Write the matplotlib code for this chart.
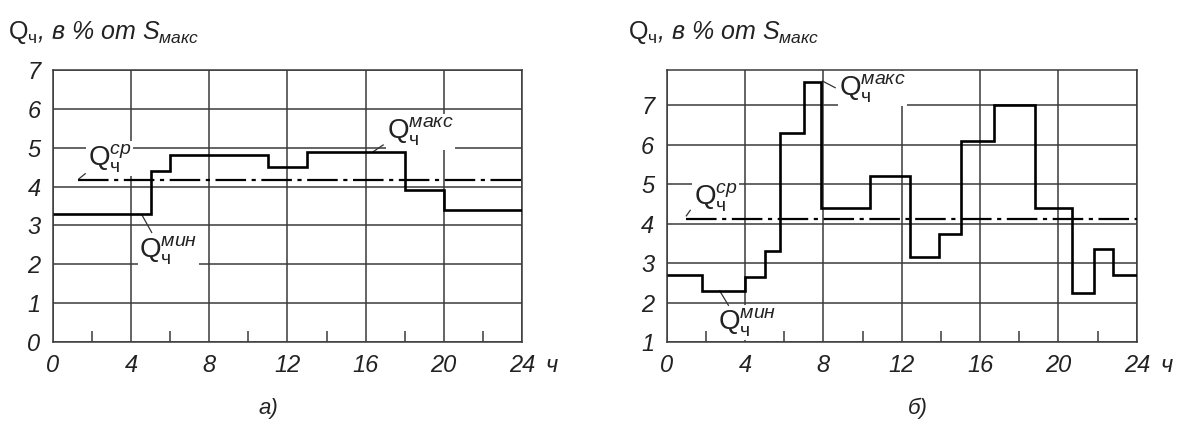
import matplotlib
matplotlib.use('Agg')
from matplotlib import pyplot as plt

plt.rcParams['font.family'] = ['Liberation Sans', 'DejaVu Sans']
plt.rcParams['mathtext.fontset'] = 'custom'
plt.rcParams['mathtext.rm'] = 'Liberation Sans'
plt.rcParams['mathtext.it'] = 'Liberation Sans:italic'
plt.rcParams['mathtext.bf'] = 'Liberation Sans:bold'
plt.rcParams['lines.scale_dashes'] = False

# chart a) - hourly reactive load, steps
hours_a = [0, 5, 6, 11, 13, 18, 20, 24]
q_a = [3.3, 4.4, 4.8, 4.5, 4.9, 3.9, 3.4]
mean_a = 4.17
mean_from_a = 1.3

# chart b)
hours_b = [0, 1.8, 4, 5, 5.8, 7, 7.9, 10.4, 12.4, 13.9, 15, 16.7, 18.8, 20.7, 21.8, 22.8, 24]
q_b = [2.7, 2.3, 2.65, 3.3, 6.3, 7.6, 4.4, 5.2, 3.15, 3.75, 6.1, 7.0, 4.4, 2.25, 3.35, 2.7]
mean_b = 4.13
mean_from_b = 1.0

x_ticks = [0, 4, 8, 12, 16, 20, 24]
x_minor = [2, 6, 10, 14, 18, 22]
y_ticks_a = [0, 1, 2, 3, 4, 5, 6, 7]
y_ticks_b = [1, 2, 3, 4, 5, 6, 7]

# label placements: (text x, text y, leader from, leader to)
labels_a = {
    'ср': (2.9, 4.72, (1.33, 4.2), (1.65, 4.33)),
    'мин': (5.9, 2.36, (4.55, 3.27), (5.05, 2.82)),
    'макс': (18.8, 5.4, (16.4, 4.9), (16.9, 5.07)),
}
labels_b = {
    'ср': (2.5, 4.67, (1.0, 4.2), (1.2, 4.34)),
    'мин': (4.1, 1.5, (2.7, 2.3), (3.15, 1.93)),
    'макс': (10.5, 7.43, (7.95, 7.62), (8.6, 7.45)),
}

GRID = '#3a3a3a'


def draw(ax, hours, q, mean, mean_from, yticks, ylim, labels):
    ax.set_xlim(0, 24)
    ax.set_ylim(*ylim)
    ax.set_xticks(x_ticks)
    ax.set_xticks(x_minor, minor=True)
    ax.set_yticks(yticks)
    ax.grid(True, which='major', color=GRID, lw=1.1, zorder=0)
    ax.set_axisbelow(True)
    for s in ax.spines.values():
        s.set_color(GRID)
        s.set_linewidth(1.1)
    ax.tick_params(which='major', length=0, labelsize=17, pad=9, labelcolor='#222')
    ax.tick_params(which='minor', direction='in', length=8, width=1.1, color=GRID)
    for t in ax.get_xticklabels() + ax.get_yticklabels():
        t.set_fontstyle('italic')

    ax.stairs(q, hours, baseline=None, color='black', lw=1.9, zorder=5)
    ax.plot([mean_from, 24], [mean, mean], color='black', lw=1.6,
            dashes=(22, 4, 3, 4), zorder=4)

    for sup, (tx, ty, p0, p1) in labels.items():
        ax.text(tx, ty, r'$\mathrm{Q}_{\mathrm{ч}}^{' + sup + '}$', fontsize=20,
                ha='center', va='center', color='#222', zorder=3,
                bbox=dict(boxstyle='square,pad=0.05', fc='white', ec='none'))
        ax.plot([p0[0], p1[0]], [p0[1], p1[1]], color='#333', lw=0.9, zorder=4)

    ax.annotate('ч', xy=(25.5, 0), xycoords=('data', 'axes fraction'),
                xytext=(0, -9), textcoords='offset points', ha='center', va='top',
                fontsize=17, fontstyle='italic', color='#222', annotation_clip=False)


fig = plt.figure(figsize=(11.78, 4.30), dpi=100)
ax1 = fig.add_axes([0.045, 0.2047, 0.398, 0.6326])
ax2 = fig.add_axes([0.566, 0.2047, 0.399, 0.6326])

draw(ax1, hours_a, q_a, mean_a, mean_from_a, y_ticks_a, (0, 7), labels_a)
draw(ax2, hours_b, q_b, mean_b, mean_from_b, y_ticks_b, (1, 7.9), labels_b)

title = r'$\mathrm{Q}_{\mathrm{ч}}$, в % от $S_{макс}$'
fig.text(0.007, 0.925, title, fontsize=18, fontstyle='italic', color='#222', va='center')
fig.text(0.533, 0.925, title, fontsize=18, fontstyle='italic', color='#222', va='center')

fig.text(0.228, 0.05, 'а)', fontsize=16, fontstyle='italic', color='#222', ha='center', va='center')
fig.text(0.779, 0.05, 'б)', fontsize=16, fontstyle='italic', color='#222', ha='center', va='center')

plt.savefig('out.png', dpi=100)
